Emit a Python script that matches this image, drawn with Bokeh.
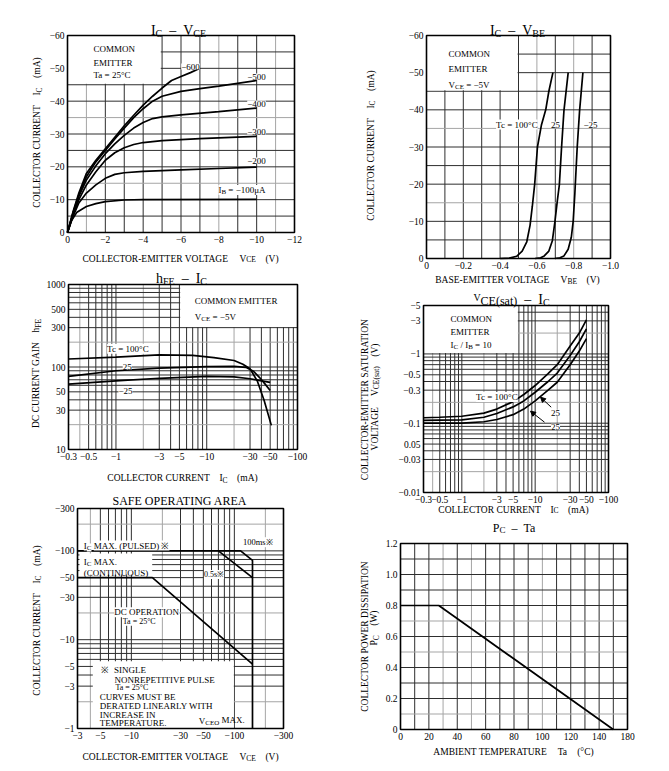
import re
import math
from bokeh.plotting import figure
from bokeh.models import Range1d, FixedTicker, Label, Arrow, NormalHead
from bokeh.layouts import row, column
from bokeh.embed import file_html
from bokeh.resources import INLINE

FONT = "Liberation Serif"

# ===================== DATA (PNP device: currents / voltages negative) =====================
# --- IC - VCE, common emitter, Ta = 25 C; one curve per base current IB (uA)
IB_LABELS = ["−600", "−500", "−400", "−300", "−200"]
VCE_IB100 = [0, -0.2, -0.5, -1, -1.5, -2, -3, -4, -10]
IC_IB100 = [0, -3.5, -6.2, -7.9, -8.8, -9.4, -9.9, -10.0, -10.1]
VCE_IB200 = [0, -0.3, -0.6, -1, -1.5, -2, -2.5, -3, -4, -6, -8, -10]
IC_IB200 = [0, -5, -9, -12, -14.5, -16.5, -17.7, -18.2, -18.6, -19.1, -19.5, -19.9]
VCE_IB300 = [0, -0.3, -0.6, -1, -1.5, -2, -2.5, -3, -3.5, -4, -5, -7, -10]
IC_IB300 = [0, -5.5, -10, -14.5, -18.5, -22, -24.3, -25.8, -26.8, -27.4, -28, -28.6, -29.3]
VCE_IB400 = [0, -0.3, -0.6, -1, -1.5, -2, -2.5, -3, -3.5, -4, -4.5, -5, -6, -8, -10]
IC_IB400 = [0, -6, -11, -16, -20.3, -24, -27, -29.6, -31.8, -33.5, -34.7, -35.2, -35.8, -36.8, -37.9]
VCE_IB500 = [0, -0.3, -0.6, -1, -1.5, -2, -2.5, -3, -3.5, -4, -4.5, -5, -6, -7, -8, -10]
IC_IB500 = [0, -6.2, -11.5, -17, -21.5, -25, -28.5, -31.8, -35, -37.7, -40, -41.5, -43, -43.8, -44.6, -46.3]
VCE_IB600 = [0, -0.3, -0.6, -1, -1.5, -2, -2.5, -3, -3.5, -4, -4.5, -5, -5.5, -6, -6.5, -7]
IC_IB600 = [0, -6.5, -12, -18, -22, -25.5, -29, -32.5, -35.7, -38.8, -41.5, -44, -46.3, -47.5, -48.7, -50]
X1_TICKS = [0, -2, -4, -6, -8, -10, -12]
X1_LABELS = ["0", "−2", "−4", "−6", "−8", "−10", "−12"]
Y1_TICKS = [0, -10, -20, -30, -40, -50, -60]
Y1_LABELS = ["0", "−10", "−20", "−30", "−40", "−50", "−60"]

# --- IC - VBE, VCE = -5 V
VBE_T100 = [-0.40, -0.45, -0.49, -0.52, -0.545, -0.563, -0.575, -0.588, -0.603, -0.625, -0.648, -0.665, -0.687]
IC_T100 = [0, -0.1, -0.6, -2, -4.5, -9, -14, -20, -30, -36, -40, -45, -50]
VBE_T25 = [-0.59, -0.62, -0.64, -0.665, -0.684, -0.698, -0.711, -0.722, -0.734, -0.747, -0.770]
IC_T25 = [0, -0.2, -0.7, -2, -4.8, -9.9, -15.5, -19.8, -29.9, -39.8, -50]
VBE_TM25 = [-0.698, -0.725, -0.747, -0.770, -0.787, -0.797, -0.806, -0.819, -0.832, -0.85]
IC_TM25 = [0, -0.2, -0.7, -2.5, -5.7, -9.9, -17.3, -29.9, -39.8, -50]
X2_TICKS = [0, -0.2, -0.4, -0.6, -0.8, -1.0]
X2_LABELS = ["0", "−0.2", "−0.4", "−0.6", "−0.8", "−1.0"]
Y2_TICKS = [0, -10, -20, -30, -40, -50, -60]
Y2_LABELS = ["0", "−10", "−20", "−30", "−40", "−50", "−60"]

# --- hFE - IC, VCE = -5 V
HFE_IC_T100 = [-0.3, -1, -3, -7, -12, -20, -25, -30, -36, -43, -51.5]
HFE_T100 = [125, 132, 140, 138, 130, 120, 108, 95, 68, 39, 19.6]
HFE_IC_T25 = [-0.3, -1, -3, -10, -20, -27, -33, -38, -44, -50]
HFE_T25 = [77, 90, 97, 101, 102, 99, 88, 75, 62, 52]
HFE_IC_TM25 = [-0.3, -1, -3, -10, -20, -30, -40, -50]
HFE_TM25 = [62, 68, 73, 77, 76, 72, 68, 65]
X3_TICKS = [0.3, 0.5, 1, 3, 5, 10, 30, 50, 100]
X3_LABELS = ["−0.3", "−0.5", "−1", "−3", "−5", "−10", "−30", "−50", "−100"]
Y3_TICKS = [10, 30, 50, 100, 300, 500, 1000]
Y3_LABELS = ["10", "30", "50", "100", "300", "500", "1000"]

# --- VCE(sat) - IC, IC/IB = 10
VS_IC = [-0.3, -0.5, -1, -2, -3, -5, -7, -10, -15, -20, -30, -40, -50]
VS_T100 = [-0.12, -0.122, -0.126, -0.14, -0.16, -0.205, -0.26, -0.35, -0.52, -0.7, -1.3, -2.0, -3.1]
VS_T25 = [-0.11, -0.111, -0.112, -0.122, -0.138, -0.172, -0.21, -0.28, -0.4, -0.53, -0.95, -1.5, -2.3]
VS_TM25 = [-0.1, -0.1, -0.1, -0.105, -0.113, -0.133, -0.16, -0.21, -0.3, -0.39, -0.7, -1.1, -1.66]
X4_TICKS = [0.3, 0.5, 1, 3, 5, 10, 30, 50, 100]
X4_LABELS = ["−0.3", "−0.5", "−1", "−3", "−5", "−10", "−30", "−50", "−100"]
Y4_TICKS = [0.01, 0.03, 0.05, 0.1, 0.3, 0.5, 1, 3, 5]
Y4_LABELS = ["−0.01", "−0.03", "0.05", "−0.1", "−0.3", "−0.5", "−1", "−3", "−5"]

# --- Safe operating area
SOA_DC_V = [-3, -16, -150]
SOA_DC_I = [-50, -50, -5.3]
SOA_100MS_V = [-3, -115, -150, -150]
SOA_100MS_I = [-100, -100, -78, -1]
SOA_05S_V = [-70, -150]
SOA_05S_I = [-100, -50]
X5_TICKS = [3, 5, 10, 30, 50, 100, 300]
X5_LABELS = ["−3", "−5", "−10", "−30", "−50", "−100", "−300"]
Y5_TICKS = [1, 3, 5, 10, 30, 50, 100, 300]
Y5_LABELS = ["−1", "−3", "−5", "−10", "−30", "−50", "−100", "−300"]

# --- PC - Ta
PC_TA = [0, 27, 150]
PC_W = [0.8, 0.8, 0]
X6_TICKS = [0, 20, 40, 60, 80, 100, 120, 140, 160]
X6_LABELS = ["0", "20", "40", "60", "80", "100", "120", "140", "180"]
Y6_TICKS = [0, 0.2, 0.4, 0.6, 0.8, 1.0, 1.2]
Y6_LABELS = ["0", "0.2", "0.4", "0.6", "0.8", "1.0", "1.2"]

# ===================== helpers =====================
CW = {}
for ch, w in zip("ABCDEFGHIJKLMNOPQRSTUVWXYZ",
                 [.722, .667, .667, .722, .611, .556, .722, .722, .333, .389, .722, .611, .889,
                  .722, .722, .556, .722, .667, .556, .611, .722, .722, .944, .722, .722, .611]):
    CW[ch] = w
for ch, w in zip("abcdefghijklmnopqrstuvwxyz",
                 [.444, .5, .444, .5, .444, .333, .5, .5, .278, .278, .5, .278, .778,
                  .5, .5, .5, .5, .333, .389, .278, .5, .5, .722, .5, .5, .444]):
    CW[ch] = w
for ch in "0123456789":
    CW[ch] = .5
CW.update({" ": .25, "-": .333, "−": .564, "–": .5, ".": .25, "(": .333, ")": .333,
           "=": .564, "/": .278, "°": .4, "※": 1.0, "μ": .576, ",": .25})


def tw(s, size):
    return sum(CW.get(c, .5) for c in s) * size


def _map(f, r, log):
    if log:
        a, b = math.log10(abs(r[0])), math.log10(abs(r[1]))
        return 10 ** (a + f * (b - a))
    return r[0] + f * (r[1] - r[0])


DARK = "#2e2e2e"
LIGHT = "#a5a5a5"


class Panel:
    """A figure whose frame is its whole canvas; the chart box (xr x yr) sits at
    page pixels (fl, ft, fw, fh) and the axes are fixed to its edges."""

    def __init__(self, ox, oy, W, H, fl, ft, fw, fh, xr, yr, xlog=False, ylog=False):
        self.fl, self.ft, self.fw, self.fh = fl, ft, fw, fh
        self.xr, self.yr, self.xlog, self.ylog = xr, yr, xlog, ylog
        xa = _map((ox - fl) / fw, xr, xlog)
        xb = _map((ox + W - fl) / fw, xr, xlog)
        ya = _map((ft + fh - oy - H) / fh, yr, ylog)
        yb = _map((ft + fh - oy) / fh, yr, ylog)
        p = figure(frame_width=W, frame_height=H,
                   min_border_left=0, min_border_top=0, min_border_right=0, min_border_bottom=0,
                   x_range=Range1d(xa, xb), y_range=Range1d(ya, yb),
                   x_axis_type="log" if xlog else "linear",
                   y_axis_type="log" if ylog else "linear",
                   output_backend="svg", toolbar_location=None, title=None,
                   background_fill_color="white", border_fill_color="white",
                   outline_line_color=None)
        p.xgrid.visible = False
        p.ygrid.visible = False
        self.p = p

    def to_data(self, px, py):
        fx = (px - self.fl) / self.fw
        fy = (self.ft + self.fh - py) / self.fh
        return float(_map(fx, self.xr, self.xlog)), float(_map(fy, self.yr, self.ylog))

    def grid(self, xd, xl, yd, yl):
        x0, x1 = self.xr
        y0, y1 = self.yr
        for xs, col in ((xl, LIGHT), (xd, DARK)):
            if xs:
                self.p.segment(x0=xs, x1=xs, y0=[y0] * len(xs), y1=[y1] * len(xs),
                               line_color=col, line_width=1)
        for ys, col in ((yl, LIGHT), (yd, DARK)):
            if ys:
                self.p.segment(x0=[x0] * len(ys), x1=[x1] * len(ys), y0=ys, y1=ys,
                               line_color=col, line_width=1)

    def axes(self, xt, xlab, yt, ylab):
        xa, ya = self.p.xaxis[0], self.p.yaxis[0]
        xa.ticker = FixedTicker(ticks=xt)
        ya.ticker = FixedTicker(ticks=yt)
        xa.major_label_overrides = dict(zip(xt, xlab))
        ya.major_label_overrides = dict(zip(yt, ylab))
        xa.fixed_location = self.yr[0]
        ya.fixed_location = self.xr[0]
        xa.bounds = tuple(sorted(self.xr))
        ya.bounds = tuple(sorted(self.yr))
        for ax in (xa, ya):
            ax.axis_label = None
            ax.axis_line_color = None
            ax.major_tick_line_color = None
            ax.minor_tick_line_color = None
            ax.major_tick_out = 0
            ax.major_tick_in = 0
            ax.minor_tick_out = 0
            ax.minor_tick_in = 0
            ax.major_label_standoff = 3
            ax.major_label_text_font = FONT
            ax.major_label_text_font_size = "9.5px"
            ax.major_label_text_color = "black"

    def box(self, x0, x1, y0, y1):
        self.p.quad(left=[x0], right=[x1], bottom=[y0], top=[y1],
                    fill_color="white", line_color=None)

    def frame(self):
        x0, x1 = self.xr
        y0, y1 = self.yr
        self.p.quad(left=[x0], right=[x1], bottom=[y0], top=[y1],
                    fill_color=None, line_color="black", line_width=1.6)

    def curve(self, xs, ys, absval=False, width=1.7):
        if absval:
            xs = [abs(v) for v in xs]
            ys = [abs(v) for v in ys]
        self.p.line(xs, ys, line_color="black", line_width=width)

    def text(self, sx, sy, segs, align="center", rot=False, bg=False):
        if isinstance(segs, str):
            segs = [(segs, 9, 0)]
        total = sum(tw(t, s) for t, s, d in segs)
        pos = {"center": -total / 2, "left": 0, "right": -total}[align]
        for t, s, d in segs:
            for part in re.split(r"( {2,})", t):
                if not part:
                    continue
                if part.strip(" ") == "":
                    pos += tw(part, s)
                    continue
                lead = len(part) - len(part.lstrip(" "))
                trail = len(part) - len(part.rstrip(" "))
                pos += tw(" " * lead, s)
                core = part.strip(" ")
                if rot:
                    px, py = sx + d, sy - pos
                else:
                    px, py = sx + pos, sy + d
                x, y = self.to_data(px, py)
                self.p.add_layout(Label(
                    x=x, y=y, text=core, text_font=FONT, text_font_size=f"{s}px",
                    text_color="black", text_align="left", text_baseline="alphabetic",
                    angle=(math.pi / 2 if rot else 0),
                    background_fill_color=("white" if bg else None)))
                pos += tw(core, s) + tw(" " * trail, s)

    def arrow(self, sx0, sy0, sx1, sy1):
        x0, y0 = self.to_data(sx0, sy0)
        x1, y1 = self.to_data(sx1, sy1)
        self.p.add_layout(Arrow(x_start=x0, y_start=y0, x_end=x1, y_end=y1, line_width=1,
                                line_color="black",
                                end=NormalHead(size=5, fill_color="black", line_color="black")))


AL = 9.5   # axis label size
SB = 7.5   # axis label subscript size
GAP = "    "

# ===================== 1: IC - VCE =====================
P1 = Panel(0, 0, 338, 264, 67, 35, 227, 197, (0, -12), (0, -60))
P1.grid([-2, -3, -4, -5, -6, -7, -9, -10], [-1, -8, -11],
        [-5, -10, -20, -25, -30, -40, -45, -50, -55], [-15, -35])
P1.axes(X1_TICKS, X1_LABELS, Y1_TICKS, Y1_LABELS)
P1.box(0, -4.93, -45.3, -60)
for xs, ys in [(VCE_IB100, IC_IB100), (VCE_IB200, IC_IB200), (VCE_IB300, IC_IB300),
               (VCE_IB400, IC_IB400), (VCE_IB500, IC_IB500), (VCE_IB600, IC_IB600)]:
    P1.curve(xs, ys)
P1.frame()
P1.text(178, 29.5, [("I", 14, 0), ("C", 10, 3), ("  –  V", 14, 0), ("CE", 10, 3)])
P1.text(36.5, 132, [("COLLECTOR CURRENT" + GAP + "I", AL, 0), ("C", SB, 2), (GAP + "(mA)", AL, 0)], rot=True)
P1.text(180, 258, [("COLLECTOR-EMITTER VOLTAGE" + GAP + "V", AL, 0), ("CE", SB, 1.3), (GAP + "(V)", AL, 0)])
P1.text(93, 48.5, "COMMON", align="left")
P1.text(93, 62, "EMITTER", align="left")
P1.text(93, 74.5, "Ta = 25°C", align="left")
for lab, sx, sy in zip(IB_LABELS, [190, 256, 256, 256, 256], [66, 76, 103, 131, 160]):
    P1.text(sx, sy, [(lab, 9, 0)], bg=True)
P1.text(241.7, 189.5, [("I", 9, 0), ("B", 7, 2), (" = −100μA", 9, 0)], bg=True)

# ===================== 2: IC - VBE =====================
P2 = Panel(338, 0, 330, 286, 426, 35, 184, 223, (0, -1.0), (0, -60))
P2.grid([-0.1, -0.2, -0.3, -0.4, -0.5, -0.7, -0.9], [-0.6, -0.8],
        [-5, -10, -20, -25, -30, -40, -45, -50, -55], [-15, -35])
P2.axes(X2_TICKS, X2_LABELS, Y2_TICKS, Y2_LABELS)
P2.box(0, -0.495, -45.3, -60)
P2.curve(VBE_T100, IC_T100)
P2.curve(VBE_T25, IC_T25)
P2.curve(VBE_TM25, IC_TM25)
P2.frame()
P2.text(517, 29.5, [("I", 14, 0), ("C", 10, 3), ("  –  V", 14, 0), ("BE", 10, 3)])
P2.text(370, 145, [("COLLECTOR CURRENT" + GAP + "I", AL, 0), ("C", SB, 2), (GAP + "(mA)", AL, 0)], rot=True)
P2.text(517, 279.5, [("BASE-EMITTER VOLTAGE" + GAP + "V", AL, 0), ("BE", SB, 1.5), (GAP + "(V)", AL, 0)])
P2.text(448, 53, "COMMON", align="left")
P2.text(448, 68.5, "EMITTER", align="left")
P2.text(448, 84, [("V", 9, 0), ("CE", 7, 2), (" = −5V", 9, 0)], align="left")
P2.text(516.7, 124, [("Tc = 100°C", 9, 0)], bg=True)
P2.text(555, 124, [("25", 9, 0)], bg=True)
P2.text(590, 124, [("−25", 9, 0)], bg=True)

# ===================== 3: hFE - IC =====================
P3 = Panel(0, 264, 338, 223, 68, 284, 229, 165, (0.3, 100), (10, 1000), xlog=True, ylog=True)
P3.grid([0.5, 0.6, 0.7, 0.8, 0.9, 1, 3, 4, 5, 6, 7, 8, 9, 10, 30, 40, 50, 60, 70, 80, 90],
        [0.4, 2, 20],
        [30, 40, 50, 60, 70, 80, 90, 100, 300, 400, 500, 600, 700, 800, 900], [20, 200])
P3.axes(X3_TICKS, X3_LABELS, Y3_TICKS, Y3_LABELS)
P3.box(5.1, 100, 306, 1000)
P3.curve(HFE_IC_T100, HFE_T100, absval=True)
P3.curve(HFE_IC_T25, HFE_T25, absval=True)
P3.curve(HFE_IC_TM25, HFE_TM25, absval=True)
P3.frame()
P3.text(181, 277.5, [("h", 14, 0), ("FE", 10, 3), ("  –  I", 14, 0), ("C", 10, 3)])
P3.text(35.5, 373, [("DC CURRENT GAIN" + GAP + "h", AL, 0), ("FE", SB, 2)], rot=True)
P3.text(182, 477.5, [("COLLECTOR CURRENT" + GAP + "I", AL, 0), ("C", SB, 2), (GAP + "(mA)", AL, 0)])
P3.text(194.3, 300.7, "COMMON EMITTER", align="left")
P3.text(194.3, 316.7, [("V", 9, 0), ("CE", 7, 2), (" = −5V", 9, 0)], align="left")
P3.text(127.7, 348.3, [("Tc = 100°C", 9, 0)], bg=True)
P3.text(126.7, 366, [("25", 9, 0)], bg=True)
P3.text(125, 390.7, [("−25", 9, 0)], bg=True)

# ===================== 4: VCE(sat) - IC =====================
P4 = Panel(338, 286, 330, 229, 423, 305, 185, 187, (0.3, 100), (0.01, 5), xlog=True, ylog=True)
P4.grid([0.5, 0.6, 0.7, 0.8, 0.9, 1, 3, 4, 5, 6, 7, 8, 9, 10, 30, 40, 50, 60, 70, 80, 90],
        [0.4, 2, 20],
        [0.03, 0.04, 0.05, 0.06, 0.07, 0.08, 0.09, 0.1, 0.3, 0.4, 0.5, 0.6, 0.7, 0.8, 0.9, 1, 3, 4],
        [0.02, 0.2, 2])
P4.axes(X4_TICKS, X4_LABELS, Y4_TICKS, Y4_LABELS)
P4.box(0.3, 5.8, 1.03, 5)
P4.curve(VS_IC, VS_T100, absval=True)
P4.curve(VS_IC, VS_T25, absval=True)
P4.curve(VS_IC, VS_TM25, absval=True)
P4.frame()
P4.text(511, 299, [("V", 10, -2), ("CE(sat)", 12, 1), ("  –  I", 14, 0), ("C", 10, 3)])
P4.text(364.5, 398, [("COLLECTOR-EMITTER SATURATION", AL, 0)], rot=True)
P4.text(374, 396.5, [("VOLTAGE" + GAP + "V", AL, 0), ("CE(sat)", SB, 2), (GAP + "(V)", AL, 0)], rot=True)
P4.text(513, 509, [("COLLECTOR CURRENT" + GAP + "I", AL, 0), ("C", SB, 1.3), (GAP + "(mA)", AL, 0)])
P4.text(450, 318.3, "COMMON", align="left")
P4.text(450, 331.7, "EMITTER", align="left")
P4.text(450, 344, [("I", 9, 0), ("C", 7, 2), (" / I", 9, 0), ("B", 7, 2), (" = 10", 9, 0)], align="left")
P4.text(496.7, 396.5, [("Tc = 100°C", 9, 0)], bg=True)
P4.arrow(550.7, 406.7, 540, 396.7)
P4.arrow(544, 421.7, 530, 410.7)
P4.text(555, 412.3, [("25", 9, 0)], bg=True)
P4.text(555, 426.3, [("25", 9, 0)], bg=True)

# ===================== 5: Safe operating area =====================
P5 = Panel(0, 487, 338, 283, 77, 508, 206, 220, (3, 300), (1, 300), xlog=True, ylog=True)
P5.grid([5, 6, 7, 8, 9, 10, 30, 40, 50, 60, 70, 80, 90, 100], [4, 20, 200],
        [3, 4, 5, 6, 7, 8, 9, 10, 30, 40, 50, 60, 70, 80, 90, 100], [2, 20, 200])
P5.axes(X5_TICKS, X5_LABELS, Y5_TICKS, Y5_LABELS)
bx0, by0 = P5.to_data(92.3, 728)
bx1, by1 = P5.to_data(233.3, 660.7)
P5.box(bx0, bx1, by0, by1)
cx0, cy0 = P5.to_data(79, 574)
cx1, cy1 = P5.to_data(151.7, 553)
P5.box(cx0, cx1, cy0, cy1)
P5.curve(SOA_DC_V, SOA_DC_I, absval=True)
P5.curve(SOA_100MS_V, SOA_100MS_I, absval=True)
P5.curve(SOA_05S_V, SOA_05S_I, absval=True)
P5.frame()
P5.text(180, 500.5, [("SAFE OPERATING AREA", 12, 0)])
P5.text(36.3, 620, [("COLLECTOR CURRENT" + GAP + "I", AL, 0), ("C", SB, 2), (GAP + "(mA)", AL, 0)], rot=True)
P5.text(180, 756, [("COLLECTOR-EMITTER VOLTAGE" + GAP + "V", AL, 0), ("CE", SB, 2), (GAP + "(V)", AL, 0)])
P5.text(83.3, 545, [("I", 9, 0), ("C", 7, 2), (" MAX. (PULSED) ※", 9, 0)], align="left", bg=True)
P5.text(83.3, 561.7, [("I", 9, 0), ("C", 7, 2), (" MAX.", 9, 0)], align="left")
P5.text(83.3, 572.3, "(CONTINUOUS)", align="left")
P5.text(214, 574, [("0.5s※", 8, 0)], bg=True)
P5.text(258, 541.7, [("100ms※", 8.5, 0)], bg=True)
P5.text(146.7, 611.7, [("DC OPERATION", 9, 0)], bg=True)
P5.text(139, 620.7, [("Ta = 25°C", 8, 0)], bg=True)
P5.text(100, 669.3, "※  SINGLE", align="left")
P5.text(114, 679.3, "NONREPETITIVE PULSE", align="left")
P5.text(131.7, 686.5, [("Ta = 25°C", 8, 0)])
P5.text(99.3, 696.7, "CURVES MUST BE", align="left")
P5.text(99.3, 705, "DERATED LINEARLY WITH", align="left")
P5.text(99.3, 714, "INCREASE IN", align="left")
P5.text(99.3, 722.7, "TEMPERATURE.", align="left")
P5.text(198.3, 720, [("V", 9, 0), ("CEO", 7, 2.5), (" MAX.", 9, -1)], align="left")

# ===================== 6: PC - Ta =====================
P6 = Panel(338, 515, 330, 255, 400, 543, 227, 186, (0, 160), (0, 1.2))
P6.grid([10, 20, 40, 60, 70, 80, 90, 110, 120, 130, 140, 150], [30, 50, 100],
        [0.2, 0.3, 0.4, 0.6, 0.8, 0.9, 1.0, 1.1], [0.1, 0.5, 0.7])
P6.axes(X6_TICKS, X6_LABELS, Y6_TICKS, Y6_LABELS)
P6.curve(PC_TA, PC_W)
P6.frame()
P6.text(514, 527, [("P", 12, 0), ("C", 9, 2.5), ("  –  Ta", 12, 0)])
P6.text(364, 635, [("COLLECTOR POWER DISSIPATION", AL, 0)], rot=True)
P6.text(373.5, 627.5, [("P", AL, 0), ("C", SB, 2), (GAP + "(W)", AL, 0)], rot=True)
P6.text(513, 751.5, [("AMBIENT TEMPERATURE" + GAP + "Ta" + GAP + "(°C)", AL, 0)])

layout = row(column(P1.p, P3.p, P5.p), column(P2.p, P4.p, P6.p))
open("out.html", "w").write(file_html(layout, INLINE, title="Transistor characteristics"))
